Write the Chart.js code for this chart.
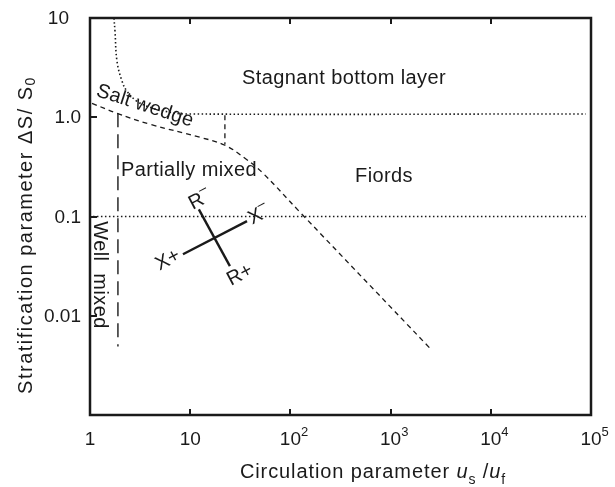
<!DOCTYPE html>
<html>
<head>
<meta charset="utf-8">
<script src="https://cdn.jsdelivr.net/npm/chart.js@4.4.0/dist/chart.umd.min.js"></script>
<style>
  html, body { margin: 0; padding: 0; background: #fff; }
  #wrap { width: 615px; height: 487px; }
</style>
</head>
<body>
<div id="wrap"><canvas id="regimeChart"></canvas></div>
<script>
// axis ticks
const xTicks = [1, 10, 100, 1000, 10000, 100000];
const xTickBase = ['1', '10', '10', '10', '10', '10'];
const xTickExp = ['', '', '2', '3', '4', '5'];
const yTicks = [10, 1, 0.1, 0.01];
const yTickLabels = ['10', '1.0', '0.1', '0.01'];

// regime boundaries
const stagnantX = [1.735, 1.776, 1.86, 2.09, 2.34, 2.94, 3.97, 5.6, 8.9, 89000];
const stagnantY = [10, 7.35, 3.66, 2.3, 1.83, 1.45, 1.26, 1.15, 1.08, 1.08];
const fiordX = [1.07, 89000];
const fiordY = [0.1, 0.1];
const wedgeX = [1.047, 1.86, 3.97, 12.5, 22.2, 35.2, 52.1, 124.7, 2473];
const wedgeY = [1.38, 1.097, 0.85, 0.629, 0.522, 0.386, 0.279, 0.1105, 0.0047];
const stepX = [22.2, 22.2];
const stepY = [1.05, 0.53];
const wellMixedX = [1.9, 1.9];
const wellMixedY = [1.1, 0.0049];
const rLineX = [12.2, 24.9];
const rLineY = [0.118, 0.0316];
const xLineX = [36.9, 8.47];
const xLineY = [0.0897, 0.0417];

const FONT = '"Liberation Sans", Arial, sans-serif';
const INK = '#1a1a1a';

function pts(xs, ys) {
  return xs.map((x, i) => ({ x: x, y: ys[i] }));
}

function line(xs, ys, dash, width, tension) {
  return {
    data: pts(xs, ys),
    showLine: true,
    pointRadius: 0,
    borderColor: INK,
    borderWidth: width,
    borderDash: dash,
    tension: tension
  };
}

// text with super/subscript pieces: [text, kind] kind = '', 'i', 'sup', 'sub'
function richText(ctx, parts, x, y, size, align, spacing) {
  const fontFor = (p) => {
    const s = (p[1] === 'sup' || p[1] === 'sub') ? Math.round(size * 0.7) : size;
    const it = p[1] === 'i' ? 'italic ' : '';
    return it + s + 'px ' + FONT;
  };
  ctx.letterSpacing = (spacing || 0) + 'px';
  let total = 0;
  parts.forEach(p => { ctx.font = fontFor(p); total += ctx.measureText(p[0]).width; });
  let cx = x;
  if (align === 'center') cx = x - total / 2;
  if (align === 'right') cx = x - total;
  ctx.textAlign = 'left';
  parts.forEach(p => {
    ctx.font = fontFor(p);
    let dy = 0;
    if (p[1] === 'sup') dy = -size * 0.42;
    if (p[1] === 'sub') dy = size * 0.28;
    ctx.fillText(p[0], cx, y + dy);
    cx += ctx.measureText(p[0]).width;
  });
  ctx.letterSpacing = '0px';
}

function rotatedText(ctx, parts, x, y, angle, size, spacing) {
  ctx.save();
  ctx.translate(x, y);
  ctx.rotate(angle * Math.PI / 180);
  ctx.textBaseline = 'middle';
  richText(ctx, parts, 0, 0, size, 'center', spacing);
  ctx.restore();
}

const framePlugin = {
  id: 'frame',
  afterDraw(chart) {
    const ctx = chart.ctx;
    const a = chart.chartArea;
    const xs = chart.scales.x, ys = chart.scales.y;
    ctx.save();
    ctx.strokeStyle = INK;
    ctx.fillStyle = INK;
    ctx.lineWidth = 2.5;
    ctx.strokeRect(a.left, a.top, a.right - a.left, a.bottom - a.top);

    // inward ticks
    ctx.lineWidth = 2;
    ctx.beginPath();
    xTicks.slice(1, -1).forEach(v => {
      const px = Math.round(xs.getPixelForValue(v));
      ctx.moveTo(px, a.bottom); ctx.lineTo(px, a.bottom - 6);
      ctx.moveTo(px, a.top); ctx.lineTo(px, a.top + 6);
    });
    yTicks.slice(1).forEach(v => {
      const py = Math.round(ys.getPixelForValue(v));
      ctx.moveTo(a.left, py); ctx.lineTo(a.left + 7, py);
    });
    ctx.stroke();

    // tick labels
    ctx.textBaseline = 'middle';
    xTicks.forEach((v, i) => {
      const px = xs.getPixelForValue(v);
      ctx.font = '19px ' + FONT;
      const w = ctx.measureText(xTickBase[i]).width;
      richText(ctx, [[xTickBase[i], ''], [xTickExp[i], 'sup']], px - w / 2, 440, 19, 'left');
    });
    yTicks.forEach((v, i) => {
      const py = ys.getPixelForValue(v);
      const right = i === 0 ? 69 : 81;
      richText(ctx, [[yTickLabels[i], '']], right, py + 1, 19, 'right');
    });

    // axis titles
    ctx.textBaseline = 'alphabetic';
    richText(ctx, [['Circulation parameter ', ''], ['u', 'i'], ['s', 'sub'], [' /', ''], ['u', 'i'], ['f', 'sub']],
      373, 478, 20, 'center', 0.9);
    rotatedText(ctx, [['Stratification parameter \u0394S/ S', ''], ['0', 'sub']], 26, 235, -90, 20, 1.5);

    // regime labels
    rotatedText(ctx, [['Stagnant bottom layer', '']], 344, 78, 0, 20, 0.4);
    rotatedText(ctx, [['Fiords', '']], 384, 176, 0, 20, 0.4);
    rotatedText(ctx, [['Partially mixed', '']], 189, 170, 0, 20, 0.4);
    rotatedText(ctx, [['Salt wedge', '']], 145, 106, 18, 20, 0.2);
    rotatedText(ctx, [['Well  mixed', '']], 100, 275, 90, 20, 0.4);

    // cross labels
    rotatedText(ctx, [['R', ''], ['\u2013', 'sup']], 200, 200, -28, 20);
    rotatedText(ctx, [['X', ''], ['\u2013', 'sup']], 259, 215, -28, 20);
    rotatedText(ctx, [['X', ''], ['+', '']], 168, 260, -28, 20);
    rotatedText(ctx, [['R', ''], ['+', '']], 240, 275, -28, 20);
    ctx.restore();
  }
};

new Chart(document.getElementById('regimeChart'), {
  type: 'scatter',
  data: {
    datasets: [
      line(stagnantX, stagnantY, [1.5, 2.5], 1.6, 0.4),
      line(fiordX, fiordY, [1.5, 2.5], 1.6, 0),
      line(wedgeX, wedgeY, [5, 4], 1.3, 0.4),
      line(stepX, stepY, [5, 4], 1.3, 0),
      line(wellMixedX, wellMixedY, [14, 7], 1.4, 0),
      line(rLineX, rLineY, [], 2.4, 0),
      line(xLineX, xLineY, [], 2.4, 0)
    ]
  },
  options: {
    responsive: true,
    maintainAspectRatio: false,
    animation: false,
    layout: { padding: { left: 90, top: 18, right: 24, bottom: 72 } },
    plugins: { legend: { display: false }, tooltip: { enabled: false } },
    scales: {
      x: { type: 'logarithmic', min: 1, max: 100000, display: false },
      y: { type: 'logarithmic', min: 0.001, max: 10, display: false }
    }
  },
  plugins: [framePlugin]
});
</script>
</body>
</html>
